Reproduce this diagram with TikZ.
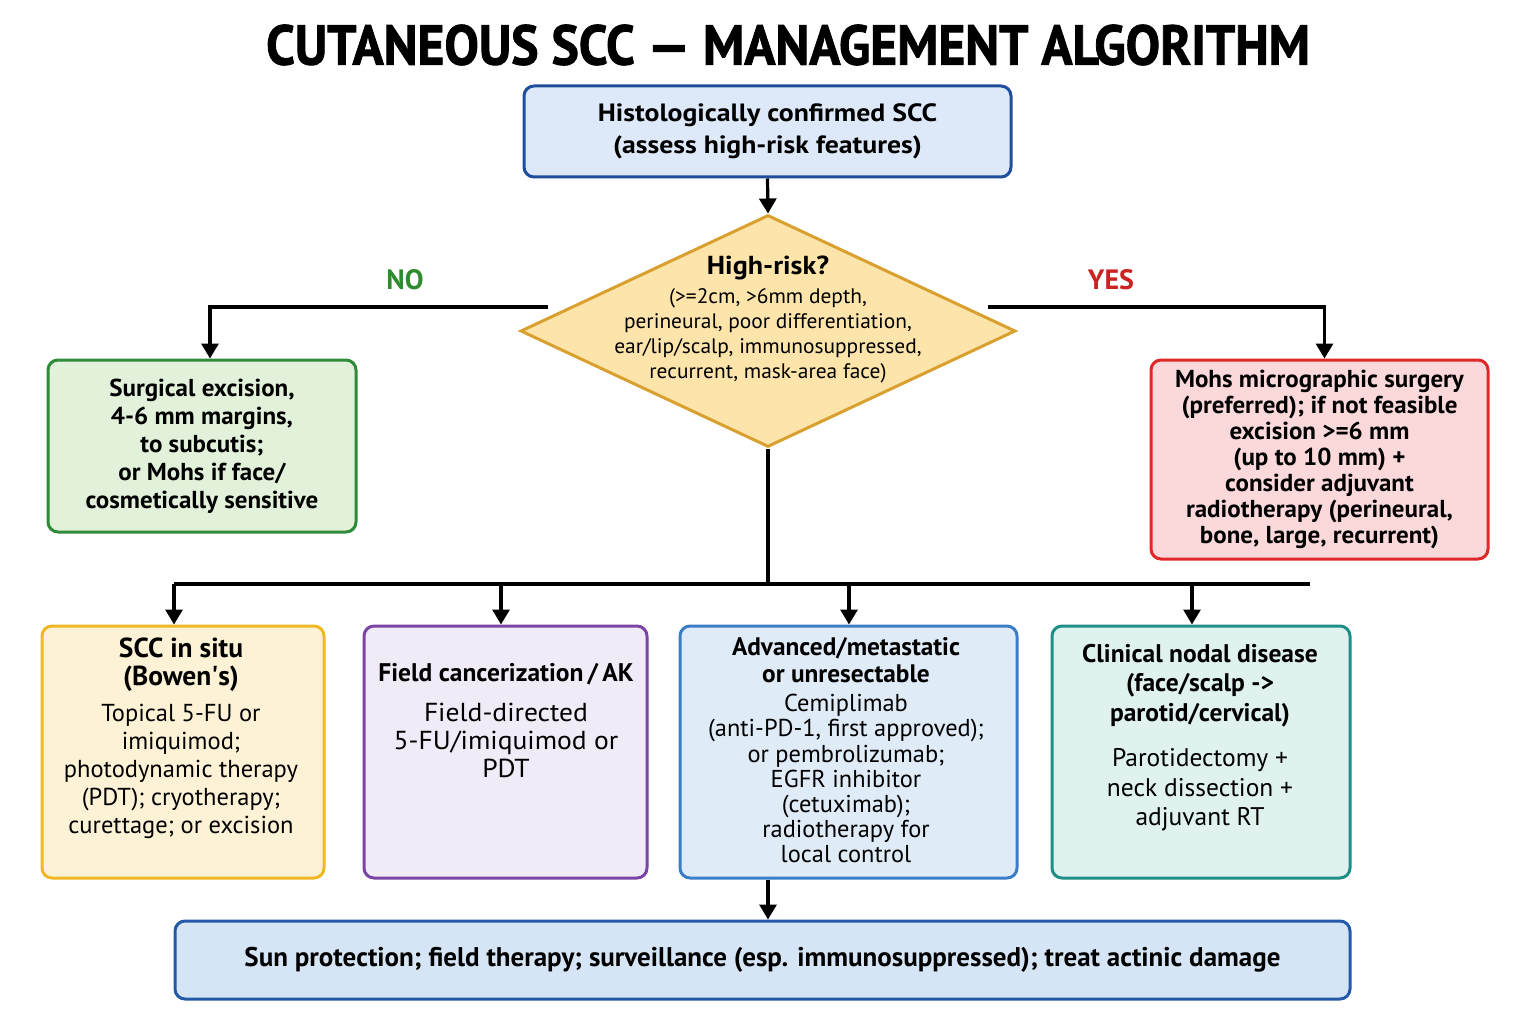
\documentclass[tikz,border=0pt]{standalone}
\usepackage{fontspec}
\setmainfont{PT Sans}
\newfontfamily\fwide[FakeStretch=1.11]{PT Sans}
\newfontfamily\fhead[FakeStretch=1.08]{PT Sans}
\newfontfamily\fmid[FakeStretch=1.02]{PT Sans}
\newfontfamily\fbtwo[FakeStretch=1.06]{PT Sans}
\newfontfamily\titlefont[FakeStretch=0.92,FakeBold=1.5]{PT Sans Bold}
\usetikzlibrary{shapes.geometric,arrows.meta}
\definecolor{topB}{HTML}{1F4E9C}
\definecolor{topF}{HTML}{DDE9F8}
\definecolor{dB}{HTML}{D9A030}
\definecolor{dF}{HTML}{FCE4AA}
\definecolor{gB}{HTML}{2E8B3A}
\definecolor{gF}{HTML}{E2F2DA}
\definecolor{rB}{HTML}{E02828}
\definecolor{rF}{HTML}{FBD9DA}
\definecolor{yB}{HTML}{F0B825}
\definecolor{yF}{HTML}{FDF2D5}
\definecolor{pB}{HTML}{7B45A6}
\definecolor{pF}{HTML}{F0EBF6}
\definecolor{bB}{HTML}{3C7DC8}
\definecolor{bF}{HTML}{E0EBF8}
\definecolor{tB}{HTML}{1F8F87}
\definecolor{tF}{HTML}{DFF2F0}
\definecolor{botB}{HTML}{2458A8}
\definecolor{botF}{HTML}{D6E5F5}
\definecolor{noC}{HTML}{2E8B2E}
\definecolor{yesC}{HTML}{CC2222}
\tikzset{
  box/.style={draw, rounded corners=10pt, line width=3pt, inner sep=0pt, align=center},
  arr/.style={line width=3.2pt, -{Triangle[width=17pt,length=15pt]}},
  ln/.style={line width=3.2pt},
  txt/.style={align=center, inner sep=0pt},
}
\begin{document}
\begin{tikzpicture}[x=1pt,y=-1pt]
\useasboundingbox[fill=white] (0,0) rectangle (1536,1024);

\node[txt, font=\titlefont\fontsize{56}{60}\selectfont] (title) at (788,45) {CUTANEOUS SCC — MANAGEMENT ALGORITHM};

\node[box, draw=topB, fill=topF, minimum width=487pt, minimum height=91pt,
      font=\fwide\bfseries\fontsize{25}{32}\selectfont] (top) at (767.5,131.5)
      {Histologically confirmed SCC\\(assess high-risk features)};

\node[diamond, draw=dB, fill=dF, line width=3pt, inner sep=0pt,
      minimum width=495pt, minimum height=232pt] (hr) at (768,331) {};
\node[txt, font=\fmid\fontsize{21}{25}\selectfont] (hrt) at (768,320)
  {{\fhead\bfseries\fontsize{26}{25}\selectfont High-risk?}\\[4pt]
   (>=2cm, >6mm depth,\\perineural, poor differentiation,\\ear/lip/scalp, immunosuppressed,\\recurrent, mask-area face)};

\node[box, draw=gB, fill=gF, minimum width=308pt, minimum height=172pt,
      font=\fmid\bfseries\fontsize{24.5}{28}\selectfont] (green) at (202,446)
  {Surgical excision,\\4-6 mm margins,\\to subcutis;\\or Mohs if face/\\cosmetically sensitive};

\node[box, draw=rB, fill=rF, minimum width=337pt, minimum height=199pt,
      font=\fmid\bfseries\fontsize{24.5}{26}\selectfont] (red) at (1319.5,459.5)
  {Mohs micrographic surgery\\(preferred); if not feasible\\excision >=6 mm\\(up to 10 mm) +\\consider adjuvant\\radiotherapy (perineural,\\bone, large, recurrent)};

\node[txt, text=noC, font=\bfseries\fontsize{28}{30}\selectfont] (no) at (405,280) {NO};
\node[txt, text=yesC, font=\bfseries\fontsize{28}{30}\selectfont] (yes) at (1111,280) {YES};

% bottom row boxes
\node[box, draw=yB, fill=yF, minimum width=282pt, minimum height=252pt] (b1) at (183,752) {};
\node[box, draw=pB, fill=pF, minimum width=283pt, minimum height=252pt] (b2) at (505.5,752) {};
\node[box, draw=bB, fill=bF, minimum width=337pt, minimum height=252pt] (b3) at (848.5,752) {};
\node[box, draw=tB, fill=tF, minimum width=298pt, minimum height=252pt] (b4) at (1201,752) {};

\node[txt, font=\fontsize{24.5}{28}\selectfont] (t1) at (181,738)
  {{\bfseries\fontsize{27.5}{28}\selectfont SCC in situ}\\{\bfseries\fontsize{27.5}{28}\selectfont (Bowen\textquotesingle s)}\\[8pt]Topical 5-FU or\\imiquimod;\\photodynamic therapy\\(PDT); cryotherapy;\\curettage; or excision};
\node[txt, font=\fbtwo\fontsize{26}{28}\selectfont] (t2) at (506,721)
  {{\rmfamily\bfseries\fontsize{25.5}{28}\selectfont Field cancerization\,/\,AK}\\[12pt]Field-directed\\5-FU/imiquimod or\\PDT};
\node[txt, font=\fontsize{24.4}{25.2}\selectfont] (t3) at (846,750.5)
  {{\bfseries\fontsize{25.3}{27}\selectfont Advanced/metastatic}\\[1.8pt]{\bfseries\fontsize{25.3}{27}\selectfont or unresectable}\\[3.8pt]Cemiplimab\\(anti-PD-1, first approved);\\or pembrolizumab;\\EGFR inhibitor\\(cetuximab);\\radiotherapy for\\local control};
\node[txt, font=\fontsize{25.5}{29.5}\selectfont] (t4) at (1200,737.5)
  {{\bfseries Clinical nodal disease}\\{\bfseries (face/scalp ->}\\{\bfseries parotid/cervical)}\\[16pt]Parotidectomy +\\neck dissection +\\adjuvant RT};

\node[box, draw=botB, fill=botF, minimum width=1175pt, minimum height=78pt,
      font=\bfseries\fontsize{27}{28}\selectfont] (bot) at (762.5,960)
  {Sun protection; field therapy; surveillance (esp. immunosuppressed); treat actinic damage};

% connectors
\draw[arr] (top.south) -- (hr.north);
\coordinate (nl) at (548,307);
\coordinate (yl) at (988,307);
\draw[arr] (nl) -| ([xshift=8pt]green.north);
\draw[arr] (yl) -| ([xshift=5pt]red.north);

\coordinate (busC) at (768,584);
\coordinate (c1) at (174,584);
\coordinate (c2) at (501,584);
\coordinate (c3) at (849,584);
\coordinate (c4) at (1192,584);
\coordinate (busR) at (1310,584);
\draw[ln] (hr.south) -- (busC);
\draw[ln] (c1) -- (busR);
\draw[arr] (c1) -- (c1 |- b1.north);
\draw[arr] (c2) -- (c2 |- b2.north);
\draw[arr] (c3) -- (c3 |- b3.north);
\draw[arr] (c4) -- (c4 |- b4.north);
\draw[arr] (busC |- b3.south) -- (busC |- bot.north);
\end{tikzpicture}
\end{document}
